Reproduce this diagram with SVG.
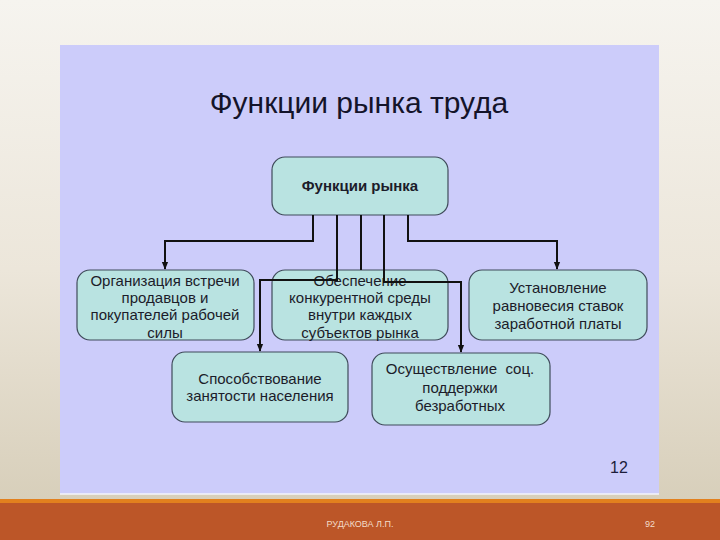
<svg xmlns="http://www.w3.org/2000/svg" width="720" height="540" viewBox="0 0 720 540">
<defs>
<linearGradient id="bg" x1="0" y1="0" x2="0" y2="1">
<stop offset="0" stop-color="#f6f4ef"/>
<stop offset="0.5" stop-color="#ece6da"/>
<stop offset="1" stop-color="#d4cbb5"/>
</linearGradient>
<marker id="arr" viewBox="0 0 10 10" refX="9" refY="5" markerWidth="4" markerHeight="4" orient="auto" markerUnits="strokeWidth">
<path d="M0,1 L10,5 L0,9 z" fill="#111"/>
</marker>
<style>
.box{fill:#b9e3e1;stroke:#3f4b5a;stroke-width:1.2}
.t{font-family:"Liberation Sans",Arial,sans-serif;font-size:15px;fill:#1c1c2a;text-anchor:middle}
.c{fill:none;stroke:#111;stroke-width:2}
</style>
</defs>
<rect x="0" y="0" width="720" height="540" fill="url(#bg)"/>
<rect x="60" y="45" width="599" height="449" fill="#ccccfa"/>
<line x1="60" y1="494" x2="659" y2="494" stroke="#f4f4fb" stroke-width="1.5"/>
<rect x="0" y="499" width="720" height="5" fill="#e2801e"/>
<rect x="0" y="503" width="720" height="37" fill="#bc5628"/>
<text x="359" y="113" font-family="'Liberation Sans',Arial,sans-serif" font-size="30" fill="#14142a" text-anchor="middle">Функции рынка труда</text>
<text x="619" y="473" font-family="'Liberation Sans',Arial,sans-serif" font-size="16" fill="#1c1c3a" text-anchor="middle">12</text>
<text x="360" y="527" font-family="'Liberation Sans',Arial,sans-serif" font-size="9" fill="#f3dcc8" text-anchor="middle">РУДАКОВА Л.П.</text>
<text x="650" y="527" font-family="'Liberation Sans',Arial,sans-serif" font-size="9" fill="#f3dcc8" text-anchor="middle">92</text>
<g id="top">
<rect class="box" x="272" y="157" width="176" height="58" rx="13"/>
<text class="t" x="360" y="191" font-weight="bold" font-size="14">Функции рынка</text>
</g>
<g id="left">
<rect class="box" x="77" y="270" width="177" height="70" rx="13"/>
<text class="t" x="165" y="286">Организация встречи</text>
<text class="t" x="165" y="303">продавцов и</text>
<text class="t" x="165" y="320">покупателей рабочей</text>
<text class="t" x="165" y="338">силы</text>
</g>
<g id="middle">
<rect class="box" x="272" y="270" width="176" height="70" rx="13"/>
<text class="t" x="360" y="286">Обеспечение</text>
<text class="t" x="360" y="303">конкурентной среды</text>
<text class="t" x="360" y="320">внутри каждых</text>
<text class="t" x="360" y="338">субъектов рынка</text>
</g>
<g id="right">
<rect class="box" x="469" y="270" width="178" height="70" rx="13"/>
<text class="t" x="558" y="293">Установление</text>
<text class="t" x="558" y="311">равновесия ставок</text>
<text class="t" x="558" y="329">заработной платы</text>
</g>
<g id="bottomleft">
<rect class="box" x="172" y="352" width="176" height="70" rx="13"/>
<text class="t" x="260" y="384">Способствование</text>
<text class="t" x="260" y="401">занятости населения</text>
</g>
<g id="bottomright">
<rect class="box" x="372" y="353" width="178" height="72" rx="13"/>
<text class="t" x="460" y="374" xml:space="preserve">Осуществление  соц.</text>
<text class="t" x="460" y="393">поддержки</text>
<text class="t" x="460" y="411">безработных</text>
</g>
<g id="connectors">
<polyline class="c" points="313,215 313,241 165,241 165,269" marker-end="url(#arr)"/>
<polyline class="c" points="408,215 408,241 557,241 557,269" marker-end="url(#arr)"/>
<polyline class="c" points="361,215 361,270"/>
<polyline class="c" points="337,215 337,280 260,280 260,351" marker-end="url(#arr)"/>
<polyline class="c" points="384,215 384,282 461,282 461,352" marker-end="url(#arr)"/>
</g>
</svg>
